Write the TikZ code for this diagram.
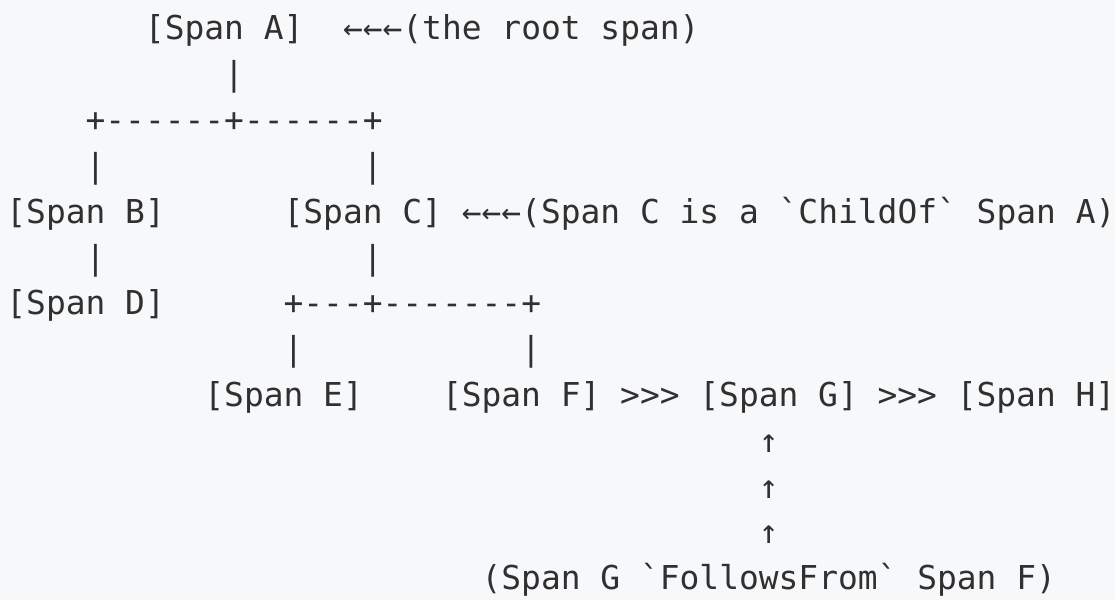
\documentclass[tikz,border=0pt]{standalone}
\usepackage{fontspec}
\setmonofont{DejaVu Sans Mono}
\usepackage{xcolor}
\definecolor{page_gray}{RGB}{247,248,250}
\definecolor{ink_gray}{RGB}{48,48,48}
\usepackage{tikz}
\usetikzlibrary{positioning}
\tikzstyle{ascii} = [
    anchor=base west, inner sep=0pt, yshift=-5pt,
    text=ink_gray, font=\ttfamily\fontsize{16.45pt}{20pt}\selectfont,
]

\begin{document}
\begin{tikzpicture}[x=9.9pt, y=-22.9pt]

    % page background
    \fill[page_gray] (-0.303,-0.655) rectangle (56.01,12.445);
    \useasboundingbox (-0.303,-0.655) rectangle (56.01,12.445);

    % span nodes
    \node[ascii] (span_a) at (7,0) {[Span A]};
    \node[ascii] (span_b) at (0,4) {[Span B]};
    \node[ascii] (span_c) at (14,4) {[Span C]};
    \node[ascii] (span_d) at (0,6) {[Span D]};
    \node[ascii] (span_e) at (10,8) {[Span E]};
    \node[ascii] (span_f) at (22,8) {[Span F]};
    \node[ascii] (span_g) at (35,8) {[Span G]};
    \node[ascii] (span_h) at (48,8) {[Span H]};

    % notes
    \node[ascii] (root_note) at (17,0) {←←←(the root span)};
    \node[ascii] (childof_note) at (23,4) {←←←(Span C is a `ChildOf` Span A)};
    \node[ascii] (follows_note) at (24,12) {(Span G `FollowsFrom` Span F)};

    % tree lines below span A
    \node[ascii] (a_stem) at (11,1) {|};
    \node[ascii] (a_branch) at (4,2) {+------+------+};
    \node[ascii] (b_stem_top) at (4,3) {|};
    \node[ascii] (c_stem_top) at (18,3) {|};
    \node[ascii] (b_stem) at (4,5) {|};
    \node[ascii] (c_stem) at (18,5) {|};

    % tree lines below span C
    \node[ascii] (c_branch) at (14,6) {+---+-------+};
    \node[ascii] (e_stem) at (14,7) {|};
    \node[ascii] (f_stem) at (26,7) {|};

    % follows-from links
    \node[ascii] (fg_link) at (31,8) {>>>};
    \node[ascii] (gh_link) at (44,8) {>>>};
    \foreach \i in {9,10,11}
        \node[ascii] (g_up_\i) at (38,\i) {↑};

\end{tikzpicture}
\end{document}
